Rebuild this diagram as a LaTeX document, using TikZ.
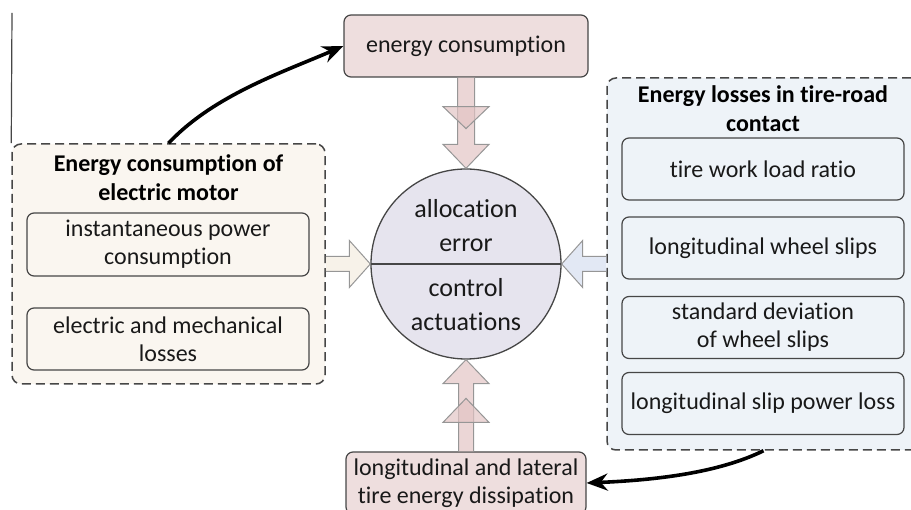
\documentclass[tikz,border=0pt]{standalone}
\usepackage{fontspec}
\setmainfont{Carlito}[Ligatures={NoCommon,NoContextual}]
\usepackage{xcolor}
\usepackage{tikz}
\usetikzlibrary{arrows.meta,positioning,calc}

\definecolor{boxline}{RGB}{70,70,70}
\definecolor{econsfill}{RGB}{238,222,222}
\definecolor{allocfill}{RGB}{230,228,238}
\definecolor{motorfill}{RGB}{250,246,240}
\definecolor{tirefill}{RGB}{238,243,248}
\definecolor{fatred}{RGB}{226,196,196}
\definecolor{fatbeige}{RGB}{244,236,224}
\definecolor{fatblue}{RGB}{214,222,240}
\definecolor{arrline}{RGB}{150,150,150}

\begin{document}
\begin{tikzpicture}[x=1pt,y=-1pt,
  box/.style={draw=boxline,line width=1.2pt,rounded corners=7pt,align=center,
    text=black!90,font=\fontsize{24}{28}\selectfont,inner sep=0pt},
  group/.style={draw=boxline,line width=1.5pt,dash pattern=on 9pt off 5pt,
    rounded corners=9pt,inner sep=0pt},
  grouptitle/.style={align=center,text=black,font=\bfseries\fontsize{24}{29}\selectfont},
  circtext/.style={align=center,text=black!90,font=\fontsize{26}{34}\selectfont},
  fat/.style={draw=arrline,line width=1pt,fill opacity=0.7},
  feedback/.style={line width=3.6pt,-{Stealth[length=21pt,width=17pt]}}]
  \useasboundingbox (0,0) rectangle (911,510);

  \node[group,fill=motorfill,minimum width=313pt,minimum height=240pt] (motor) at (168.5,264) {};
  \node[grouptitle] (motortitle) at (168.5,178) {Energy consumption of\\electric motor};
  \node[box,minimum width=282pt,minimum height=63pt] (ipow) at (168,244.5) {instantaneous power\\consumption};
  \node[box,minimum width=282pt,minimum height=62pt] (emloss) at (168,339) {electric and mechanical\\losses};

  \node[group,fill=tirefill,minimum width=313pt,minimum height=372pt] (tire) at (763.5,264) {};
  \node[grouptitle] (tiretitle) at (763,109) {Energy losses in tire-road\\contact};
  \node[box,minimum width=282pt,minimum height=62pt] (twlr) at (763,169) {tire work load ratio};
  \node[box,minimum width=282pt,minimum height=62pt] (lws) at (763,248) {longitudinal wheel slips};
  \node[box,minimum width=282pt,minimum height=62pt] (sdws) at (763,327.5) {standard deviation\\of wheel slips};
  \node[box,minimum width=282pt,minimum height=62pt] (lspl) at (763,403.5) {longitudinal slip power loss};

  \node[box,fill=econsfill,minimum width=244pt,minimum height=62pt] (econs) at (466,46) {energy consumption};
  \node[box,fill=econsfill,minimum width=240pt,minimum height=62pt] (tdiss) at (466,483) {longitudinal and lateral\\tire energy dissipation};

  \node[circle,draw=boxline,line width=1.3pt,fill=allocfill,minimum size=190pt,inner sep=0pt] (alloc) at (466,264) {};
  \draw[boxline,line width=1.3pt] (alloc.west) -- (alloc.east);
  \node[circtext] (allocerr) at ($(alloc.center)+(0,-38)$) {allocation\\error};
  \node[circtext] (ctrlact) at ($(alloc.center)+(0,41)$) {control\\actuations};

  \draw[fat,fill=fatred] ($(econs.south)+(-8.5,0)$) -- ($(alloc.north)+(-8.5,-24)$) -- ($(alloc.north)+(-23,-24)$)
    -- (alloc.north) -- ($(alloc.north)+(23,-24)$) -- ($(alloc.north)+(8.5,-24)$) -- ($(econs.south)+(8.5,0)$);
  \draw[fat,fill=fatred] ($(econs.south)+(-23,29)$) -- ($(econs.south)+(0,51)$) -- ($(econs.south)+(23,29)$) -- cycle;

  \draw[fat,fill=fatred] ($(tdiss.north)+(-7.5,0)$) -- ($(alloc.south)+(-7.5,24)$) -- ($(alloc.south)+(-23,24)$)
    -- (alloc.south) -- ($(alloc.south)+(23,24)$) -- ($(alloc.south)+(7.5,24)$) -- ($(tdiss.north)+(7.5,0)$);
  \draw[fat,fill=fatred] ($(tdiss.north)+(-23,-29)$) -- ($(tdiss.north)+(0,-53)$) -- ($(tdiss.north)+(23,-29)$) -- cycle;

  \draw[fat,fill=fatbeige] ($(motor.east)+(0,-7.5)$) -- ($(alloc.west)+(-21,-7.5)$) -- ($(alloc.west)+(-21,-23.5)$)
    -- (alloc.west) -- ($(alloc.west)+(-21,23.5)$) -- ($(alloc.west)+(-21,7.5)$) -- ($(motor.east)+(0,7.5)$);
  \draw[fat,fill=fatblue] ($(tire.west)+(0,-7.5)$) -- ($(alloc.east)+(21,-7.5)$) -- ($(alloc.east)+(21,-23.5)$)
    -- (alloc.east) -- ($(alloc.east)+(21,23.5)$) -- ($(alloc.east)+(21,7.5)$) -- ($(tire.west)+(0,7.5)$);

  \draw[feedback] (motor.north) .. controls ($(motor.north)+(45,-48)$) and ($(econs.west)+(-60,26)$) .. (econs.west);
  \draw[feedback] (tire.south) .. controls ($(tire.south)+(-45,22)$) and ($(tdiss.east)+(70,-3)$) .. (tdiss.east);

  \coordinate (lntop) at (12,13);
  \draw[boxline,line width=1.2pt] (motor.north west) -- (lntop);
\end{tikzpicture}
\end{document}
